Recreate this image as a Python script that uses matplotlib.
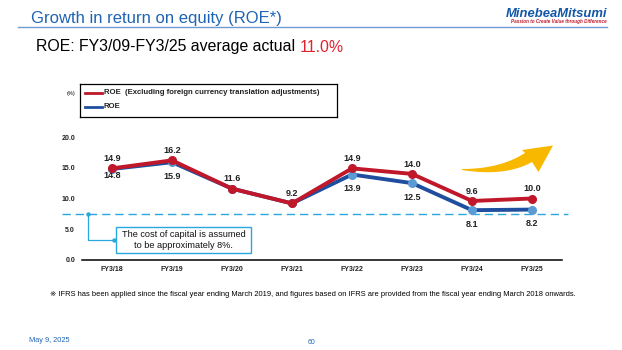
import matplotlib
matplotlib.use("Agg")
import matplotlib.pyplot as plt
from matplotlib.patches import Rectangle, Polygon
import numpy as np

plt.rcParams['font.family'] = ['Liberation Sans', 'DejaVu Sans']

years = ['FY3/18', 'FY3/19', 'FY3/20', 'FY3/21', 'FY3/22', 'FY3/23', 'FY3/24', 'FY3/25']
roe_ex_fx = [14.9, 16.2, 11.6, 9.2, 14.9, 14.0, 9.6, 10.0]
roe = [14.8, 15.9, 11.6, 9.2, 13.9, 12.5, 8.1, 8.2]
cost_of_capital = 7.5
yticks = [0.0, 5.0, 10.0, 15.0, 20.0]

RED = '#C0182A'
BLUE = '#1F4E9E'
LBLUE = '#5B9BD5'
CYAN = '#29A8E0'
W, H = 622, 350


def fx(px):
    return px / W


def fy(py):
    return 1 - py / H


fig = plt.figure(figsize=(6.22, 3.5), dpi=100)

# header
fig.text(fx(31), fy(18), 'Growth in return on equity (ROE*)', color='#1F64B4',
         fontsize=12, va='center', ha='left')
fig.add_artist(plt.Line2D([fx(18), fx(607)], [fy(27), fy(27)], color='#6E9CCF', lw=1))
fig.text(fx(607), fy(14), 'MinebeaMitsumi', color='#1257A8', fontsize=9.4,
         fontweight='bold', style='italic', ha='right', va='center')
fig.text(fx(607), fy(21), 'Passion to Create Value through Difference', color='#C0182A',
         fontsize=3.3, style='italic', fontweight='bold', ha='right', va='center')

t = fig.text(fx(36), fy(47), 'ROE: FY3/09-FY3/25 average actual ', color='black',
             fontsize=11.4, va='center', ha='left')
fig.canvas.draw()
bb = t.get_window_extent()
fig.text(bb.x1 / W, fy(47), '11.0%', color='#E5202E', fontsize=11.4, va='center', ha='left')

ax = fig.add_axes([fx(82), fy(260), 480 / W, 123 / H])
x = list(range(len(years)))

ax.axhline(cost_of_capital, xmin=-0.042, xmax=1.013, color=CYAN, lw=1, ls=(0, (6, 3.5)), clip_on=False)

ax.plot(x, roe, color=BLUE, lw=2.8, marker='o', ms=5.5, mfc=LBLUE, mec=LBLUE, zorder=3)
ax.plot(x, roe_ex_fx, color=RED, lw=2.8, marker='o', ms=5.5, mfc=RED, mec=RED, zorder=4)

# label offsets (points) below the blue points
blue_off = [-5, -10, -10, -10, -10, -10, -10, -10]
for i in x:
    ax.annotate(f'{roe_ex_fx[i]:.1f}', (i, roe_ex_fx[i]), xytext=(0, 7), textcoords='offset points',
                ha='center', va='center', fontsize=6.5, fontweight='bold', color='#222222')
    if roe[i] != roe_ex_fx[i]:
        ax.annotate(f'{roe[i]:.1f}', (i, roe[i]), xytext=(0, blue_off[i]), textcoords='offset points',
                    ha='center', va='center', fontsize=6.5, fontweight='bold', color='#222222')

ax.set_xlim(-0.5, len(years) - 0.5)
ax.set_ylim(0, 20)
ax.set_xticks(x)
ax.set_xticklabels(years, fontsize=5, fontweight='bold', color='#222222')
ax.set_yticks(yticks)
ax.set_yticklabels([f'{v:.1f}' for v in yticks], fontsize=5, fontweight='bold', color='#222222')
ax.tick_params(axis='x', length=0, pad=4)
ax.tick_params(axis='y', length=0, pad=5)
for s in ['top', 'right', 'left']:
    ax.spines[s].set_visible(False)
ax.spines['bottom'].set_linewidth(1.1)


# callout for cost of capital (pixel -> data helpers)
def dx(px):
    return (px - 82) / 60 - 0.5


def dy(py):
    return (260 - py) / (123 / 20)


ax.plot([dx(88.3), dx(88.3), dx(114)], [cost_of_capital, dy(240.3), dy(240.3)], color=CYAN, lw=0.9,
        clip_on=False)
ax.plot([dx(88.3), dx(114)], [cost_of_capital, dy(240.3)], ls='none', marker='o', ms=2.2, color=CYAN,
        clip_on=False)
ax.add_patch(Rectangle((dx(116), dy(252.7)), dx(250.7) - dx(116), dy(227.3) - dy(252.7),
                       fc='white', ec=CYAN, lw=1, clip_on=False, zorder=5))
ax.text(dx(183.5), dy(240), 'The cost of capital is assumed\nto be approximately 8%.', ha='center',
        va='center', fontsize=6.6, linespacing=1.15, zorder=6, color='#111111')


# growth arrow (pixel outline)
def bez(p0, p1, p2, n=20):
    s = np.linspace(0, 1, n)[:, None]
    return (1 - s) ** 2 * np.array(p0) + 2 * (1 - s) * s * np.array(p1) + s ** 2 * np.array(p2)


upper = bez((462, 169), (500, 169), (525, 153))
lower = bez((532, 162), (505, 177), (462, 170))
head = np.array([(522, 150), (553, 145.5), (538.5, 172)])
outline = np.vstack([upper, head, lower])
arr = Polygon(np.column_stack([outline[:, 0] / W, 1 - outline[:, 1] / H]), closed=True,
              transform=fig.transFigure, fc='#F9B800', ec='none')
fig.add_artist(arr)

# legend
fig.text(fx(67), fy(93), '(%)', fontsize=4, va='center', ha='left')
leg_ax = fig.add_axes([fx(80), fy(117), 257 / W, 33 / H])
leg_ax.set_xticks([])
leg_ax.set_yticks([])
for s in leg_ax.spines.values():
    s.set_linewidth(0.9)
leg_ax.set_xlim(80, 337)
leg_ax.set_ylim(117, 84)
leg_ax.plot([85, 101.5], [92.5, 92.5], color=RED, lw=2)
leg_ax.plot([85, 101.5], [106.5, 106.5], color=BLUE, lw=2)
leg_ax.text(104, 92.5, 'ROE  (Excluding foreign currency translation adjustments)', fontsize=5.6,
            fontweight='bold', va='center', ha='left', color='#222222')
leg_ax.text(104, 106.5, 'ROE', fontsize=5.6, fontweight='bold', va='center', ha='left', color='#222222')

# footer
fig.text(fx(50), fy(294),
         '\u203b IFRS has been applied since the fiscal year ending March 2019, and figures based on IFRS are provided from the fiscal year ending March 2018 onwards.',
         fontsize=5.4, ha='left', va='center')
fig.text(fx(29), fy(340), 'May 9, 2025', fontsize=5.3, color='#1F64B4', ha='left', va='center')
fig.text(fx(311), fy(343), '60', fontsize=5.0, color='#1F64B4', ha='center', va='center')

fig.savefig('out.png', dpi=100)
